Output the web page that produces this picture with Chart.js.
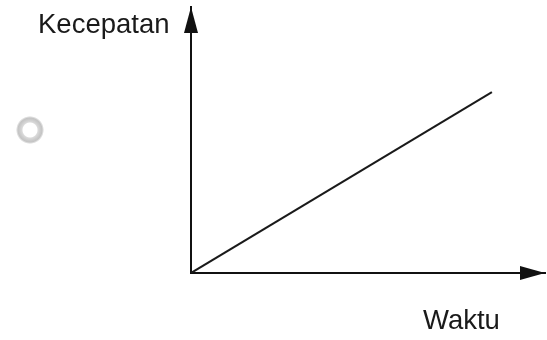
<!DOCTYPE html>
<html>
<head>
<meta charset="utf-8">
<script src="https://cdn.jsdelivr.net/npm/chart.js@4"></script>
<style>
  html, body { margin: 0; padding: 0; background: #fff; }
  #wrap { position: relative; width: 547px; height: 340px; }
  #c { position: absolute; left: 0; top: 0; }
  .lbl { position: absolute; font-family: "Liberation Sans", Arial, sans-serif; font-size: 27.5px; line-height: 27px; color: #1a1a1a; white-space: nowrap; }
  #radio { position: absolute; left: 16px; top: 116px; width: 28px; height: 28px; border-radius: 50%;
    background: radial-gradient(circle at 50% 50%, #fff 0 7px, #dadada 8px, #cbcbcb 10.5px, #c4c4c4 12px, #ebebeb 13.5px, #fff 14px);
    filter: blur(0.7px); }
</style>
</head>
<body>
<div id="wrap">
  <canvas id="c" width="547" height="340"></canvas>
  <div id="radio"></div>
  <div class="lbl" id="ylbl" style="left:38px; top:10px;">Kecepatan</div>
  <div class="lbl" id="xlbl" style="left:423px; top:306px;">Waktu</div>
</div>
<script>
const waktu = [0, 8.5];
const kecepatan = [0, 6.8];
const xRange = [0, 10];
const yRange = [0, 10];

const arrowPlugin = {
  id: 'arrows',
  afterDraw(chart) {
    const ctx = chart.ctx;
    const a = chart.chartArea;
    const x0 = chart.scales.x.left;
    const y0 = chart.scales.y.bottom;
    ctx.save();
    ctx.fillStyle = '#111';
    // y-axis arrowhead
    ctx.beginPath();
    ctx.moveTo(x0, a.top);
    ctx.lineTo(x0 - 7, a.top + 26);
    ctx.lineTo(x0 + 7, a.top + 26);
    ctx.closePath();
    ctx.fill();
    // x-axis arrowhead
    ctx.beginPath();
    ctx.moveTo(a.right, y0);
    ctx.lineTo(a.right - 25, y0 - 7);
    ctx.lineTo(a.right - 25, y0 + 7);
    ctx.closePath();
    ctx.fill();
    ctx.restore();
  }
};

new Chart(document.getElementById('c'), {
  type: 'line',
  data: {
    datasets: [{
      data: waktu.map((w, i) => ({ x: w, y: kecepatan[i] })),
      borderColor: '#1a1a1a',
      borderWidth: 2,
      pointRadius: 0,
      fill: false
    }]
  },
  options: {
    responsive: false,
    animation: false,
    events: [],
    layout: { padding: { left: 191, top: 7, right: 2, bottom: 67 } },
    plugins: { legend: { display: false }, tooltip: { enabled: false }, title: { display: false } },
    scales: {
      x: {
        type: 'linear', min: xRange[0], max: xRange[1],
        grid: { display: false, drawTicks: false },
        ticks: { display: false },
        border: { display: true, color: '#111', width: 2 }
      },
      y: {
        type: 'linear', min: yRange[0], max: yRange[1],
        grid: { display: false, drawTicks: false },
        ticks: { display: false },
        border: { display: true, color: '#111', width: 2 }
      }
    }
  },
  plugins: [arrowPlugin]
});
</script>
</body>
</html>
